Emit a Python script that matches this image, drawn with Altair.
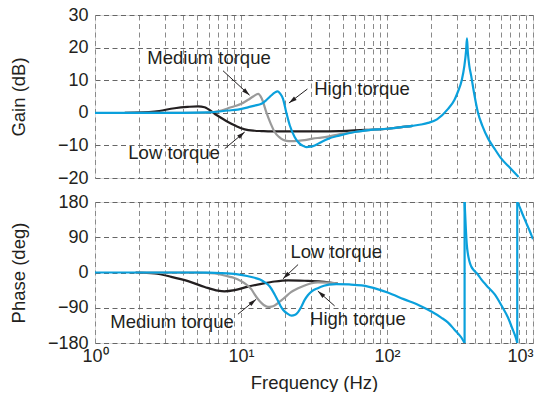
import math
import altair as alt
import pandas as pd

# ---------------- data ----------------
SERIES = ["Low torque", "Medium torque", "High torque"]
COLORS = ["#231f20", "#9a9a9a", "#0aa0dc"]

# Gain (dB)
gain_low_f = [1.6, 2.56, 3.51, 4.3, 5.08, 5.64, 6.6, 8.15, 9.2, 10.6, 12.4, 13.8, 16.1, 25, 35.5, 47, 60, 75, 101, 125, 150]
gain_low_v = [0, 0.4, 1.4, 1.8, 2.0, 1.7, -0.3, -2.8, -4.0, -5.1, -5.5, -5.6, -5.7, -5.7, -5.7, -5.6, -5.4, -5.2, -4.9, -4.4, -4.0]

gain_med_f = [1.6, 5.6, 7.34, 8.15, 9.0, 10.05, 11.2, 12.2, 13.1, 13.9, 14.9, 16.0, 17.0, 18.2, 19.4, 20.5, 22.1, 24.5, 27.3, 31, 35.5, 39.4, 47, 60, 75, 101, 125, 150]
gain_med_v = [0, 0, 0.7, 1.4, 2.0, 2.75, 4.0, 5.1, 5.8, 4.3, 0.2, -3.4, -5.9, -7.4, -8.3, -8.6, -8.7, -8.6, -8.4, -7.9, -7.6, -7.3, -6.6, -5.9, -5.3, -4.9, -4.4, -4.0]

gain_high_f = [1, 2, 4, 6, 8.15, 9.5, 11, 12.4, 13.8, 15.0, 16.1, 17.0, 17.9, 18.6, 19.4, 20.4, 21.6, 23.3, 25.0, 26.5, 28.0, 30.0, 32.0, 35.0, 39.4, 47, 60, 75, 101, 125, 150, 171, 191, 220, 262, 290, 305, 325, 339, 348, 353, 358, 366, 377, 395, 419, 450, 494, 545, 605, 700, 796]
gain_high_v = [0, 0, 0, 0.1, 0.7, 1.0, 1.6, 2.2, 2.75, 4.0, 5.3, 6.2, 6.6, 5.8, 4.3, 0.2, -3.9, -7.4, -9.3, -10.1, -10.5, -10.4, -10.0, -9.1, -8.0, -7.0, -5.9, -5.3, -4.9, -4.4, -4.0, -3.6, -3.1, -2.0, 1.2, 4.0, 6.3, 10.0, 14.5, 19.0, 22.8, 18.5, 14.5, 11.4, 6.0, 0.2, -4.0, -8.0, -11.0, -14.0, -17.0, -19.7]

# Phase (deg)
phase_low_f = [1.9, 2.56, 3.33, 4.34, 5.64, 6.96, 7.7, 9.05, 11.2, 13.8, 17, 21, 27.3, 35.5, 46]
phase_low_v = [0, -2.5, -11, -22, -37, -46.5, -48, -45, -36, -29, -23, -20, -21, -23, -28.5]

phase_med_f = [1.9, 5, 6.6, 8.15, 9.0, 10, 11, 11.8, 12.4, 13.4, 14.3, 15.3, 16.2, 17, 18.5, 19.9, 22, 24.6, 27.3, 30, 33.6, 40, 46]
phase_med_v = [0, -0.5, -2.5, -10, -14, -22, -32, -43, -56, -73, -83, -88, -87, -84, -74, -64, -50, -40, -33, -28, -25, -26, -28.5]

# High torque phase, three branches split at the +/-180 wraps
phase_high_f1 = [1, 2, 4, 6, 7.3, 8.5, 9.5, 11, 12.4, 13.5, 14.5, 15.7, 17, 17.9, 18.7, 19.4, 20.8, 22.2, 23.5, 24.6, 26, 27.3, 28.7, 30.5, 33.6, 37, 40, 45, 55, 67, 87, 101, 130, 171, 200, 235, 262, 290, 323, 340]
phase_high_v1 = [0, 0, 0, -0.5, -1.5, -3, -5, -9, -13.5, -18, -24.5, -35, -56, -72, -86, -95, -105, -110, -108, -101, -86, -70, -58, -48, -40, -34, -31, -29.5, -30.5, -33, -43, -51, -68, -86, -99, -115, -128, -146, -166, -180]
phase_high_f2 = [340, 343, 347, 352, 358, 366, 377, 395, 419, 441, 480, 547, 610, 674, 720, 773, 780]
phase_high_v2 = [180, 150, 110, 71, 48, 30, 16, 5, -5, -17, -33, -56, -85, -115, -142, -174, -180]
phase_high_f3 = [780, 800, 850, 900, 950, 1000]
phase_high_v3 = [180, 172, 148, 126, 106, 85]
phase_wrap_f = [340, 780]

# Annotations (data coordinates)
gain_text = ["Medium torque", "High torque", "Low torque"]
gain_text_f = [6.04, 67.4, 3.48]
gain_text_v = [16.8, 7.3, -12.2]
gain_arrow_f0 = [7.53, 28.5, 7.74]
gain_arrow_v0 = [12.9, 7.3, -11.0]
gain_arrow_f1 = [11.45, 21.3, 10.6]
gain_arrow_v1 = [5.4, 3.0, -5.9]

phase_text = ["Low torque", "Medium torque", "High torque"]
phase_text_f = [44.9, 3.37, 63.2]
phase_text_v = [53, -126.8, -119]
phase_arrow_f0 = [24.6, 9.53, 43.8]
phase_arrow_v0 = [20.3, -106.5, -85.4]
phase_arrow_f1 = [19.4, 12.7, 33.6]
phase_arrow_v1 = [-16, -68.4, -47.4]

gain_ticks = [-20, -10, 0, 10, 20, 30]
phase_ticks = [-180, -90, 0, 90, 180]
x_grid = [m * 10 ** k for k in range(3) for m in range(1, 10)] + [1000]

# ---------------- styling ----------------
W = 438
H_GAIN = 163
H_PHASE = 141
FONT = "Liberation Sans"
TXT = "#231f20"
FS = 18.5


def curve(series, f, v, seg=0):
    return pd.DataFrame({"f": f, "v": v, "series": series, "seg": seg,
                         "i": list(range(len(f)))})


gain_df = pd.concat([
    curve("Low torque", gain_low_f, gain_low_v),
    curve("Medium torque", gain_med_f, gain_med_v),
    curve("High torque", gain_high_f, gain_high_v),
])
phase_df = pd.concat([
    curve("Low torque", phase_low_f, phase_low_v),
    curve("Medium torque", phase_med_f, phase_med_v),
    curve("High torque", phase_high_f1, phase_high_v1, 1),
    curve("High torque", phase_high_f2, phase_high_v2, 2),
    curve("High torque", phase_high_f3, phase_high_v3, 3),
])


def arrows(f0, v0, f1, v1, height, lo, hi):
    rows = []
    for a, b, c, d in zip(f0, v0, f1, v1):
        dx = (math.log10(c) - math.log10(a)) * W / 3.0
        dy = -(d - b) * height / (hi - lo)
        ang = (math.degrees(math.atan2(dx, -dy)) + 360) % 360
        rows.append({"f": a, "v": b, "f2": c, "v2": d, "ang": ang})
    return pd.DataFrame(rows)


label_expr = ("datum.value == 1 ? '10⁰' : datum.value == 10 ? '10¹' : "
              "datum.value == 100 ? '10²' : datum.value == 1000 ? '10³' : ''")
label_align = {"condition": {"test": "datum.value >= 1000", "value": "right"}, "value": "center"}

xscale = alt.Scale(type="log", domain=[1, 1000], nice=False)
ARROW_PATH = "M0,0 L0.55,2 L-0.55,2 Z"


def panel(df, arr_df, txt_df, lo, hi, ticks, height, ytitle, bottom, wraps=None):
    yscale = alt.Scale(domain=[lo, hi], nice=False, zero=False)
    if bottom:
        xaxis = alt.Axis(values=x_grid, labelExpr=label_expr, title="Frequency (Hz)",
                         ticks=False, domain=False, labelPadding=4, titlePadding=8,
                         labelFlush=False, labelAlign=label_align,
                         gridDash=[5, 3.5], gridColor="#8a8a8a",
                         labelFont=FONT, labelFontSize=18, labelColor=TXT,
                         titleFont=FONT, titleFontSize=FS, titleColor=TXT,
                         titleFontWeight="normal")
    else:
        xaxis = alt.Axis(values=x_grid, labels=False, ticks=False, domain=False,
                         title=None, gridDash=[5, 3.5], gridColor="#8a8a8a",
                         minExtent=0, maxExtent=0, labelPadding=0)
    yaxis = alt.Axis(values=ticks, title=ytitle, ticks=False, domain=False,
                     labelPadding=7, gridDash=[5, 3.5], gridColor="#666666",
                     labelFont=FONT, labelFontSize=18, labelColor=TXT,
                     titleFont=FONT, titleFontSize=FS, titleColor=TXT,
                     titleFontWeight="normal", titleX=-67, titleY=height / 2)
    X = lambda field: alt.X(field, scale=xscale, axis=xaxis)
    Y = lambda field: alt.Y(field, scale=yscale, axis=yaxis)

    lines = alt.Chart(df).mark_line(strokeWidth=2.2, clip=True, interpolate="monotone").encode(
        x=X("f:Q"),
        y=Y("v:Q"),
        color=alt.Color("series:N", scale=alt.Scale(domain=SERIES, range=COLORS), legend=None),
        detail="seg:N",
        order="i:Q",
    )
    layers = [lines]
    if wraps is not None:
        wdf = pd.DataFrame({"f": wraps, "v": [lo] * len(wraps), "v2": [hi] * len(wraps)})
        layers.append(alt.Chart(wdf).mark_rule(color=COLORS[2], strokeWidth=2.2).encode(
            x=X("f:Q"), y=Y("v:Q"), y2="v2:Q",
        ))
    layers.append(alt.Chart(arr_df).mark_rule(color=TXT, strokeWidth=1).encode(
        x=X("f:Q"), y=Y("v:Q"), x2="f2:Q", y2="v2:Q",
    ))
    layers.append(alt.Chart(arr_df).mark_point(shape=ARROW_PATH, filled=True, size=64,
                                                color=TXT, opacity=1).encode(
        x=X("f2:Q"), y=Y("v2:Q"),
        angle=alt.Angle("ang:Q", scale=None),
    ))
    layers.append(alt.Chart(txt_df).mark_text(font=FONT, fontSize=FS, color=TXT,
                                              align="center", baseline="middle").encode(
        x=X("f:Q"), y=Y("v:Q"), text="t:N",
    ))
    return alt.layer(*layers).properties(width=W, height=height)


gain_arr = arrows(gain_arrow_f0, gain_arrow_v0, gain_arrow_f1, gain_arrow_v1, H_GAIN, -20, 30)
phase_arr = arrows(phase_arrow_f0, phase_arrow_v0, phase_arrow_f1, phase_arrow_v1, H_PHASE, -180, 180)
gain_txt = pd.DataFrame({"t": gain_text, "f": gain_text_f, "v": gain_text_v})
phase_txt = pd.DataFrame({"t": phase_text, "f": phase_text_f, "v": phase_text_v})

top = panel(gain_df, gain_arr, gain_txt, -20, 30, gain_ticks, H_GAIN, "Gain (dB)", False)
bot = panel(phase_df, phase_arr, phase_txt, -180, 180, phase_ticks, H_PHASE, "Phase (deg)", True,
            wraps=phase_wrap_f)

chart = alt.vconcat(top, bot, spacing=24, bounds="flush").properties(
    padding={"left": 0, "top": -3, "right": 0, "bottom": 0}
).configure_view(stroke="#2a2a2a", strokeWidth=1.3).configure(background="white")

chart.save("out.html", embed_options={"renderer": "svg", "actions": False})
